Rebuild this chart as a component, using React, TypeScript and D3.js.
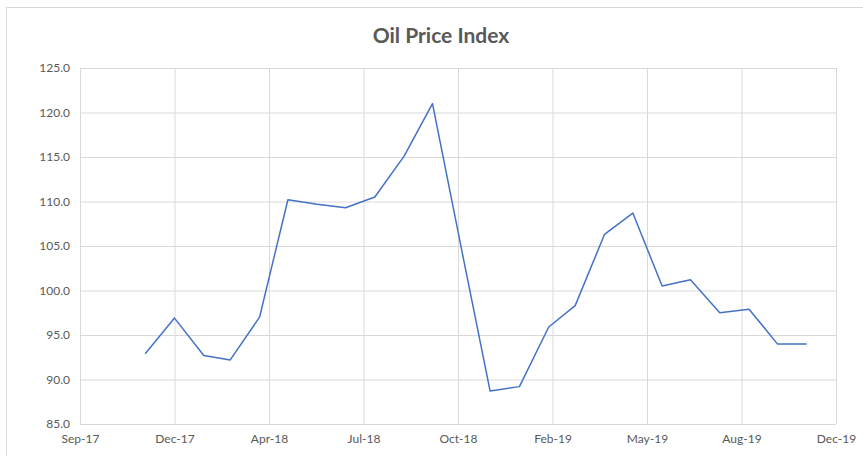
import React, { useEffect, useRef } from 'react';
import * as d3 from 'd3';

// monthly index, month-end dates (Nov-17 .. Oct-19)
const months = [
  '2017-11-30', '2017-12-31', '2018-01-31', '2018-02-28', '2018-03-31', '2018-04-30',
  '2018-05-31', '2018-06-30', '2018-07-31', '2018-08-31', '2018-09-30', '2018-10-31',
  '2018-11-30', '2018-12-31', '2019-01-31', '2019-02-28', '2019-03-31', '2019-04-30',
  '2019-05-31', '2019-06-30', '2019-07-31', '2019-08-31', '2019-09-30', '2019-10-31',
];
const priceIndex = [
  92.9, 96.9, 92.7, 92.2, 97.0, 110.2,
  109.7, 109.3, 110.5, 115.1, 121.0, 104.5,
  88.7, 89.2, 95.9, 98.3, 106.3, 108.7,
  100.5, 101.2, 97.5, 97.9, 94.0, 94.0,
];
// excel-style ticks, every 100 days
const xTicks = [
  '2017-09-22', '2017-12-31', '2018-04-10', '2018-07-19', '2018-10-27',
  '2019-02-04', '2019-05-15', '2019-08-23', '2019-12-01',
];
const yTicks = [85, 90, 95, 100, 105, 110, 115, 120, 125];

const W = 863;
const H = 456;

export default function App() {
  const ref = useRef<SVGSVGElement>(null);

  useEffect(() => {
    const svg = d3.select(ref.current);
    svg.selectAll('*').remove();

    const parse = d3.utcParse('%Y-%m-%d');
    const left = 80, right = 836, top = 68, bottom = 424;

    const x = d3.scaleUtc()
      .domain([parse(xTicks[0])!, parse(xTicks[xTicks.length - 1])!])
      .range([left, right]);
    const y = d3.scaleLinear().domain([85, 125]).range([bottom, top]);

    svg.append('rect')
      .attr('x', 0).attr('y', 0).attr('width', W).attr('height', H)
      .attr('fill', '#fff');
    // chart area border (right/bottom fall off the picture)
    svg.append('rect')
      .attr('x', 6.5).attr('y', 7.5).attr('width', W + 10).attr('height', H + 10)
      .attr('fill', 'none').attr('stroke', '#d9d9d9');

    const font = 'Lato, "Open Sans", sans-serif';

    svg.append('text')
      .attr('x', 441).attr('y', 43)
      .attr('text-anchor', 'middle')
      .attr('font-family', font)
      .attr('font-weight', 'bold')
      .attr('font-size', 21)
      .attr('fill', '#595959')
      .text('Oil Price Index');

    // horizontal grid
    const yAxis = svg.append('g')
      .attr('transform', `translate(${left},0)`)
      .call(d3.axisLeft(y).tickValues(yTicks).tickFormat(d3.format('.1f'))
        .tickSize(-(right - left)).tickPadding(10));
    yAxis.select('.domain').remove();
    yAxis.selectAll('line').attr('stroke', '#d9d9d9');
    yAxis.selectAll('text')
      .attr('font-family', font).attr('font-size', 12).attr('fill', '#595959');

    // vertical grid
    const xAxis = svg.append('g')
      .attr('transform', `translate(0,${bottom})`)
      .call(d3.axisBottom(x).tickValues(xTicks.map(d => parse(d)!))
        .tickFormat(d3.utcFormat('%b-%y') as any)
        .tickSize(-(bottom - top)).tickPadding(10));
    xAxis.select('.domain').remove();
    xAxis.selectAll('line').attr('stroke', '#d9d9d9');
    xAxis.selectAll('text')
      .attr('font-family', font).attr('font-size', 12).attr('fill', '#595959');

    const line = d3.line<number>()
      .x((d, i) => x(parse(months[i])!))
      .y(d => y(d));

    svg.append('path')
      .datum(priceIndex)
      .attr('d', line)
      .attr('fill', 'none')
      .attr('stroke', '#4472C4')
      .attr('stroke-width', 1.5)
      .attr('stroke-linejoin', 'round');
  }, []);

  return (
    <svg ref={ref} width={W} height={H}
      style={{ position: 'absolute', left: 0, top: 0, display: 'block' }} />
  );
}
